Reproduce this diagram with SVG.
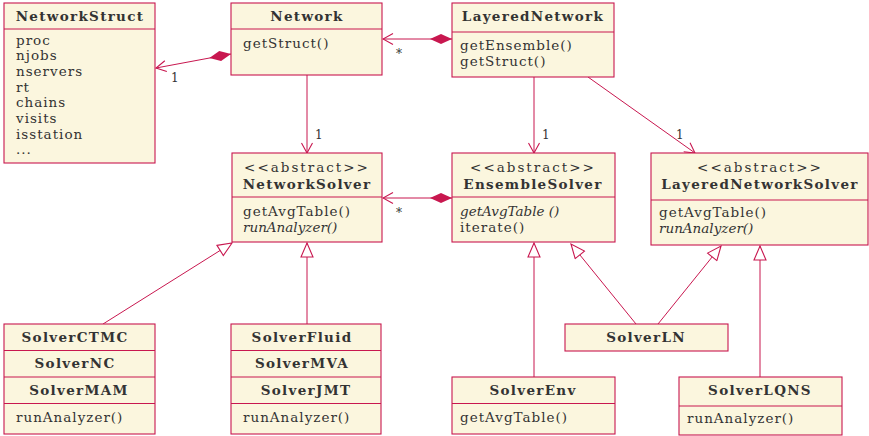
<svg xmlns="http://www.w3.org/2000/svg" width="869" height="436" viewBox="0 0 869 436">
<style>
.box{fill:#FBF6DE;stroke:#C8174F;stroke-width:1.1}
.ln{stroke:#C8174F;stroke-width:1;fill:none}
text{font-family:"DejaVu Serif","Liberation Serif",serif;fill:#333;font-size:13.5px;letter-spacing:1px}
.t{font-weight:bold;text-anchor:middle;letter-spacing:1.3px}
.c{text-anchor:middle;letter-spacing:2px}
.i{font-style:italic;letter-spacing:0}
.lbl{font-size:12px;letter-spacing:0}
</style>
<defs>
<marker id="open" markerUnits="userSpaceOnUse" markerWidth="12" markerHeight="12" viewBox="0 0 10 12" refX="10" refY="6" orient="auto"><path d="M0,0.5 L10,6 L0,11.5" fill="none" stroke="#C8174F" stroke-width="1.1"/></marker>
<marker id="dia" markerUnits="userSpaceOnUse" markerWidth="22" markerHeight="12" viewBox="0 0 22 12" refX="0" refY="6" orient="auto"><path d="M0,6 L11,1 L22,6 L11,11 Z" fill="#C8174F"/></marker>
<marker id="tri" markerUnits="userSpaceOnUse" markerWidth="16" markerHeight="14" viewBox="0 0 16 14" refX="15" refY="7" orient="auto"><path d="M1,1 L15,7 L1,13 Z" fill="#fff" stroke="#C8174F" stroke-width="1.1"/></marker>
</defs>

<g id="connectors">
<path class="ln" d="M231,54 L156,68" marker-start="url(#dia)" marker-end="url(#open)"/>
<path class="ln" d="M452,39 L383,39" marker-start="url(#dia)" marker-end="url(#open)"/>
<path class="ln" d="M452,198 L383,198" marker-start="url(#dia)" marker-end="url(#open)"/>
<path class="ln" d="M307,75 L307,153" marker-end="url(#open)"/>
<path class="ln" d="M534,77 L534,153" marker-end="url(#open)"/>
<path class="ln" d="M588,77 L695,153" marker-end="url(#open)"/>
<path class="ln" d="M103,324 L232,243" marker-end="url(#tri)"/>
<path class="ln" d="M307,324 L307,243" marker-end="url(#tri)"/>
<path class="ln" d="M534,377 L534,243" marker-end="url(#tri)"/>
<path class="ln" d="M636,324 L571,244" marker-end="url(#tri)"/>
<path class="ln" d="M658,324 L721,246" marker-end="url(#tri)"/>
<path class="ln" d="M760,377 L760,246" marker-end="url(#tri)"/>
<text class="lbl" x="171" y="82">1</text>
<text class="lbl" x="396" y="58">*</text>
<text class="lbl" x="396" y="217">*</text>
<text class="lbl" x="315" y="139">1</text>
<text class="lbl" x="542" y="139">1</text>
<text class="lbl" x="676" y="139">1</text>
</g>

<g id="NetworkStruct">
<rect class="box" x="4" y="3" width="151" height="160"/>
<line class="ln" x1="4" y1="29" x2="155" y2="29"/>
<text class="t" x="80" y="21">NetworkStruct</text>
<text x="16" y="45">proc</text>
<text x="16" y="60">njobs</text>
<text x="16" y="76">nservers</text>
<text x="16" y="92">rt</text>
<text x="16" y="107">chains</text>
<text x="16" y="123">visits</text>
<text x="16" y="139">isstation</text>
<text x="16" y="154">...</text>
</g>

<g id="Network">
<rect class="box" x="231" y="3" width="151" height="72"/>
<line class="ln" x1="231" y1="29" x2="382" y2="29"/>
<text class="t" x="307" y="21">Network</text>
<text x="243" y="48">getStruct()</text>
</g>

<g id="LayeredNetwork">
<rect class="box" x="452" y="3" width="162" height="74"/>
<line class="ln" x1="452" y1="32" x2="614" y2="32"/>
<text class="t" x="533" y="21">LayeredNetwork</text>
<text x="460" y="50">getEnsemble()</text>
<text x="460" y="66">getStruct()</text>
</g>

<g id="NetworkSolver">
<rect class="box" x="232" y="153" width="150" height="89"/>
<line class="ln" x1="232" y1="197" x2="382" y2="197"/>
<text class="c" x="307" y="172">&lt;&lt;abstract&gt;&gt;</text>
<text class="t" x="307" y="189">NetworkSolver</text>
<text x="243" y="216">getAvgTable()</text>
<text class="i" x="243" y="232">runAnalyzer()</text>
</g>

<g id="EnsembleSolver">
<rect class="box" x="452" y="153" width="163" height="89"/>
<line class="ln" x1="452" y1="197" x2="615" y2="197"/>
<text class="c" x="533" y="172">&lt;&lt;abstract&gt;&gt;</text>
<text class="t" x="533" y="189">EnsembleSolver</text>
<text class="i" x="460" y="216">getAvgTable ()</text>
<text x="460" y="232">iterate()</text>
</g>

<g id="LayeredNetworkSolver">
<rect class="box" x="651" y="153" width="217" height="92"/>
<line class="ln" x1="651" y1="200" x2="868" y2="200"/>
<text class="c" x="760" y="172">&lt;&lt;abstract&gt;&gt;</text>
<text class="t" x="760" y="189">LayeredNetworkSolver</text>
<text x="659" y="217">getAvgTable()</text>
<text class="i" x="659" y="233">runAnalyzer()</text>
</g>

<g id="SolverCTMC">
<rect class="box" x="4" y="324" width="151" height="110"/>
<line class="ln" x1="4" y1="350.5" x2="155" y2="350.5"/>
<line class="ln" x1="4" y1="377" x2="155" y2="377"/>
<line class="ln" x1="4" y1="403.5" x2="155" y2="403.5"/>
<text class="t" x="75" y="342">SolverCTMC</text>
<text class="t" x="75" y="368">SolverNC</text>
<text class="t" x="79" y="395">SolverMAM</text>
<text x="16" y="422">runAnalyzer()</text>
</g>

<g id="SolverFluid">
<rect class="box" x="231" y="324" width="150" height="110"/>
<line class="ln" x1="231" y1="350.5" x2="381" y2="350.5"/>
<line class="ln" x1="231" y1="377" x2="381" y2="377"/>
<line class="ln" x1="231" y1="403.5" x2="381" y2="403.5"/>
<text class="t" x="302" y="342">SolverFluid</text>
<text class="t" x="302" y="368">SolverMVA</text>
<text class="t" x="306" y="395">SolverJMT</text>
<text x="243" y="422">runAnalyzer()</text>
</g>

<g id="SolverLN">
<rect class="box" x="565" y="324" width="163" height="27"/>
<text class="t" x="646" y="342">SolverLN</text>
</g>

<g id="SolverEnv">
<rect class="box" x="452" y="377" width="163" height="57"/>
<line class="ln" x1="452" y1="403.5" x2="615" y2="403.5"/>
<text class="t" x="533" y="395">SolverEnv</text>
<text x="460" y="422">getAvgTable()</text>
</g>

<g id="SolverLQNS">
<rect class="box" x="679" y="377" width="163" height="58"/>
<line class="ln" x1="679" y1="406" x2="842" y2="406"/>
<text class="t" x="760" y="395">SolverLQNS</text>
<text x="687" y="423">runAnalyzer()</text>
</g>
</svg>
